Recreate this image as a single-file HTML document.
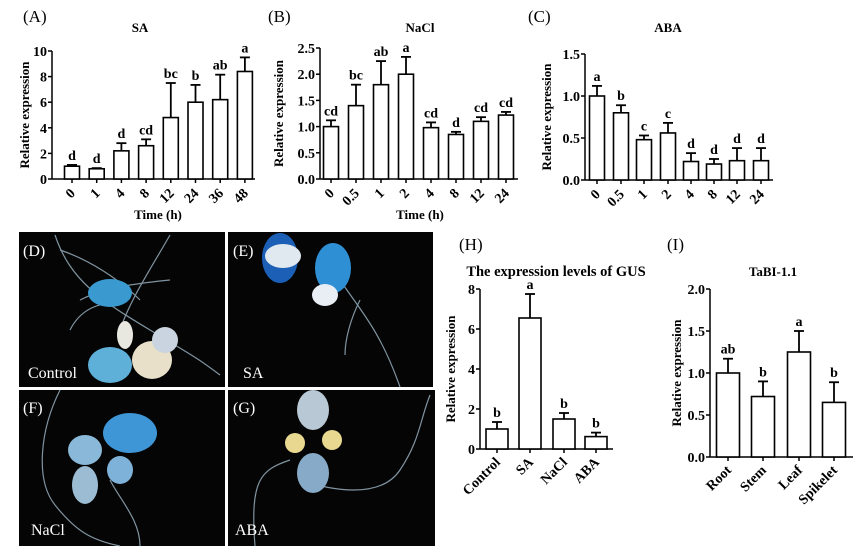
<!DOCTYPE html>
<html><head><meta charset="utf-8"><style>
html,body{margin:0;padding:0;background:#fff;}
svg{display:block;font-family:"Liberation Serif",serif;}
</style></head><body>
<svg id="s" width="866" height="559" viewBox="0 0 866 559" xmlns="http://www.w3.org/2000/svg">
<rect width="866" height="559" fill="#fff"/>
<g>
<rect x="19" y="232" width="206" height="155" fill="#050505"/>
<rect x="228" y="232" width="205" height="155" fill="#050505"/>
<rect x="19" y="390" width="206" height="156" fill="#050505"/>
<rect x="228" y="390" width="207" height="156" fill="#050505"/>
<g fill="none" stroke="#9fb8c8" stroke-width="1.2" opacity="0.8">
<path d="M55 235 C70 280 100 300 150 330 S200 360 220 375"/>
<path d="M60 250 C90 260 120 280 140 300"/>
<path d="M80 300 C100 290 120 285 170 280"/>
<path d="M170 235 C150 270 130 300 120 330"/>
<path d="M70 330 C80 310 100 300 120 305"/>
<path d="M340 280 C360 310 380 330 400 387"/>
<path d="M360 300 C350 320 345 340 345 355"/>
<path d="M60 390 C40 430 35 480 55 505 S90 540 120 546"/>
<path d="M110 480 C120 500 140 520 140 546"/>
<path d="M290 460 C260 470 250 480 255 546"/>
<path d="M300 480 C330 490 380 500 400 470 S420 420 430 395"/>
</g>
<ellipse cx="110" cy="293" rx="22" ry="14" fill="#3a9ad0"/>
<ellipse cx="152" cy="360" rx="20" ry="19" fill="#e8e0c8"/>
<ellipse cx="110" cy="365" rx="22" ry="18" fill="#5fb0d8"/>
<ellipse cx="125" cy="335" rx="8" ry="14" fill="#e8e8e0"/>
<ellipse cx="165" cy="340" rx="13" ry="13" fill="#c9d4e0"/>
<ellipse cx="280" cy="258" rx="18" ry="25" fill="#1b5fb6"/>
<ellipse cx="333" cy="268" rx="18" ry="25" fill="#2f8fd4"/>
<ellipse cx="283" cy="256" rx="18" ry="12" fill="#e0e8f0"/>
<ellipse cx="325" cy="295" rx="13" ry="11" fill="#e8eef4"/>
<ellipse cx="130" cy="433" rx="27" ry="20" fill="#3e96d6"/>
<ellipse cx="85" cy="450" rx="17" ry="15" fill="#8ab8d8"/>
<ellipse cx="85" cy="485" rx="13" ry="19" fill="#9cbcd4"/>
<ellipse cx="120" cy="470" rx="13" ry="14" fill="#7eb2d8"/>
<ellipse cx="313" cy="410" rx="16" ry="20" fill="#b8c8d4"/>
<ellipse cx="313" cy="473" rx="16" ry="20" fill="#86aac8"/>
<ellipse cx="295" cy="443" rx="10" ry="10" fill="#e8d890"/>
<ellipse cx="332" cy="440" rx="10" ry="10" fill="#e8d890"/>
<g fill="#fff" font-size="16">
<text x="23" y="256">(D)</text><text x="233" y="256">(E)</text>
<text x="23" y="413">(F)</text><text x="233" y="413">(G)</text>
<text x="28" y="378">Control</text><text x="243" y="378">SA</text>
<text x="31" y="535">NaCl</text><text x="235" y="535">ABA</text>
</g>
</g>
<g id="charts"></g>
</svg>
<script>
const NS="http://www.w3.org/2000/svg";
const g=document.getElementById("charts");
function el(t,a,txt){const e=document.createElementNS(NS,t);for(const k in a)e.setAttribute(k,a[k]);if(txt!==undefined)e.textContent=txt;g.appendChild(e);return e;}
function chart(o){
 const {ax,y0,y1,ymax,ticks,tfmt,xend,cx,bw,vals,errs,lets,labs,labY,title,tx,ty,pl,plx,ply,xt,ylx,tfs}=o;
 const sc=(y0-y1)/ymax;
 el("line",{x1:ax,y1:y1,x2:ax,y2:y0,stroke:"#000","stroke-width":1.5});
 el("line",{x1:ax,y1:y0,x2:xend,y2:y0,stroke:"#000","stroke-width":1.5});
 ticks.forEach(t=>{const y=y0-t*sc;el("line",{x1:ax-4,y1:y,x2:ax,y2:y,stroke:"#000","stroke-width":1.5});
  el("text",{x:ax-5,y:y+5,"text-anchor":"end","font-size":14,"font-weight":"bold"},tfmt(t));});
 vals.forEach((v,i)=>{const c=cx[i],top=y0-v*sc,et=y0-(v+errs[i])*sc;
  el("line",{x1:c,y1:top,x2:c,y2:et,stroke:"#000","stroke-width":1.8});
  el("line",{x1:c-5,y1:et,x2:c+5,y2:et,stroke:"#000","stroke-width":1.8});
  el("rect",{x:c-bw/2,y:top,width:bw,height:y0-top,fill:"#fff",stroke:"#000","stroke-width":1.6});
  el("line",{x1:c,y1:y0,x2:c,y2:y0+4,stroke:"#000","stroke-width":1.5});
  el("text",{x:c,y:et-5,"text-anchor":"middle","font-size":14,"font-weight":"bold"},lets[i]);
  el("text",{x:c+4,y:labY,"text-anchor":"end","font-size":14,"font-weight":"bold",transform:`rotate(-45 ${c+4} ${labY})`},labs[i]);
 });
 el("text",{x:tx,y:ty,"text-anchor":"middle","font-size":tfs||13,"font-weight":"bold"},title);
 el("text",{x:plx,y:ply,"font-size":17},pl);
 if(xt) el("text",{x:xt[0],y:xt[1],"text-anchor":"middle","font-size":13,"font-weight":"bold"},"Time (h)");
 const ym=(y0+y1)/2;
 el("text",{x:ylx,y:ym,"text-anchor":"middle","font-size":13,"font-weight":"bold",transform:`rotate(-90 ${ylx} ${ym})`},"Relative expression");
}
const sp=(a,d,n)=>Array.from({length:n},(_,i)=>a+d*i);
chart({ax:52,y0:179,y1:51,ymax:10,ticks:[0,2,4,6,8,10],tfmt:t=>t,xend:255,cx:sp(72,24.7,8),bw:15,
 vals:[1,0.8,2.2,2.6,4.8,6,6.2,8.4],errs:[0.1,0.05,0.6,0.5,2.7,1.35,1.95,1.1],
 lets:["d","d","d","cd","bc","b","ab","a"],labs:["0","1","4","8","12","24","36","48"],labY:194,
 title:"SA",tx:140,ty:32,pl:"(A)",plx:23,ply:22,xt:[158,219],ylx:29});
chart({ax:320,y0:179,y1:48,ymax:2.5,ticks:[0,0.5,1,1.5,2,2.5],tfmt:t=>t.toFixed(1),xend:518,cx:sp(331,25,8),bw:15,
 vals:[1,1.4,1.8,2,0.98,0.85,1.1,1.22],errs:[0.12,0.4,0.45,0.33,0.1,0.05,0.08,0.06],
 lets:["cd","bc","ab","a","cd","d","cd","cd"],labs:["0","0.5","1","2","4","8","12","24"],labY:194,
 title:"NaCl",tx:420,ty:32,pl:"(B)",plx:268,ply:22,xt:[420,219],ylx:283});
chart({ax:585,y0:180,y1:54,ymax:1.5,ticks:[0,0.5,1,1.5],tfmt:t=>t.toFixed(1),xend:773,cx:[597,621,644,668,691,714,737,761],bw:15,
 vals:[1,0.8,0.48,0.56,0.22,0.19,0.23,0.23],errs:[0.12,0.09,0.05,0.12,0.1,0.06,0.15,0.15],
 lets:["a","b","c","c","d","d","d","d"],labs:["0","0.5","1","2","4","8","12","24"],labY:195,
 title:"ABA",tx:668,ty:32,pl:"(C)",plx:528,ply:22,xt:null,ylx:551});
chart({ax:480,y0:449,y1:289,ymax:8,ticks:[0,2,4,6,8],tfmt:t=>t,xend:613,cx:[497,530,564,596],bw:22,
 vals:[1,6.55,1.5,0.62],errs:[0.35,1.2,0.3,0.2],
 lets:["b","a","b","b"],labs:["Control","SA","NaCl","ABA"],labY:463,
 title:"The  expression levels of GUS",tx:556,ty:276,tfs:14.5,pl:"(H)",plx:459,ply:250,xt:null,ylx:455});
chart({ax:710,y0:457,y1:289,ymax:2,ticks:[0,0.5,1,1.5,2],tfmt:t=>t.toFixed(1),xend:853,cx:[728,763,799,834],bw:23,
 vals:[1,0.72,1.25,0.65],errs:[0.17,0.18,0.25,0.24],
 lets:["ab","b","a","b"],labs:["Root","Stem","Leaf","Spikelet"],labY:471,
 title:"TaBI-1.1",tx:773,ty:276,pl:"(I)",plx:667,ply:250,xt:null,ylx:681});
</script>
</body></html>
